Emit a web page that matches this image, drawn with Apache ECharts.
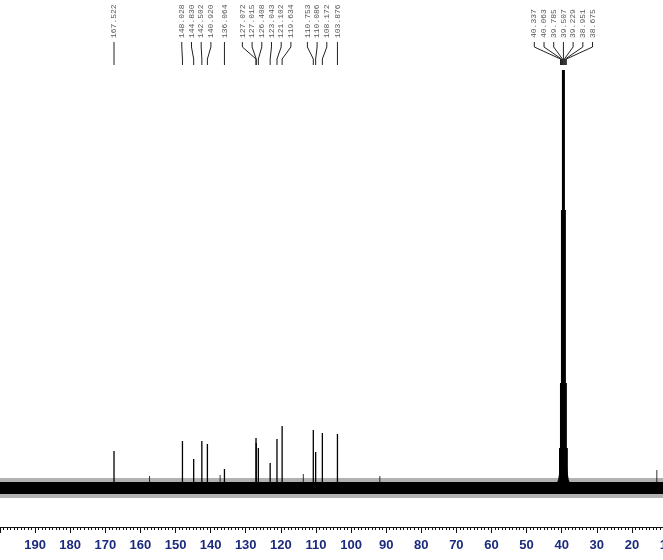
<!DOCTYPE html>
<html>
<head>
<meta charset="utf-8">
<script src="https://cdn.jsdelivr.net/npm/echarts@6/dist/echarts.min.js"></script>
<style>
html,body{margin:0;padding:0;background:#fff;}
#chart{width:663px;height:560px;}
</style>
</head>
<body>
<div id="chart"></div>
<script>
// ---- data ----
const tickValues = [190,180,170,160,150,140,130,120,110,100,90,80,70,60,50,40,30,20,10];
const peakShifts  = [167.522,148.028,144.830,142.502,140.920,136.064,127.072,127.015,126.408,123.043,121.102,119.634,110.753,110.086,108.172,103.876];
const peakHeights = [37,47,29,47,44,19,50,45,40,25,49,62,58,36,55,54];
const solventShifts  = [40.337,40.063,39.785,39.507,39.229,38.951,38.675];
const solventHeights = [40,105,278,418,278,105,40];
const humpShifts  = [41.9,41.2,40.7,40.3,40.0,39.5,39.0,38.7,38.3,37.8,37.1];
const humpHeights = [0,5,12,25,45,60,45,25,12,5,0];
const minorShifts  = [157.4,137.3,113.6,91.8,12.9];
const minorHeights = [12,13,14,12,18];

const chart = echarts.init(document.getElementById('chart'), null, {renderer:'canvas'});

function stickSeries(shifts, heights, width, color){
  return {
    type:'custom',
    clip:false,
    silent:true,
    data: shifts.map((s,i)=>[s,heights[i]]),
    renderItem:function(params, api){
      const p0 = api.coord([api.value(0), 0]);
      const p1 = api.coord([api.value(0), api.value(1)]);
      return {type:'line', shape:{x1:p0[0],y1:p0[1],x2:p1[0],y2:p1[1]},
              style:{stroke:color, lineWidth:width}};
    }
  };
}

const labelShifts = peakShifts.concat(solventShifts).slice().sort((a,b)=>b-a);

const annotation = {
  type:'custom',
  clip:false,
  silent:true,
  data:[[100,0]],
  renderItem:function(params, api){
    const spacing = 9.7;
    const px = labelShifts.map(s=>api.coord([s,0])[0]);
    let groups = px.map((p,i)=>({members:[i], center:p}));
    let merged = true;
    while(merged){
      merged = false;
      for(let g=0; g<groups.length-1; g++){
        const a = groups[g], b = groups[g+1];
        const aRight = a.center + (a.members.length-1)/2*spacing;
        const bLeft  = b.center - (b.members.length-1)/2*spacing;
        if(aRight + spacing > bLeft + 0.01){
          const m = a.members.concat(b.members);
          const c = m.reduce((acc,i)=>acc+px[i],0)/m.length;
          groups.splice(g,2,{members:m, center:c});
          merged = true;
          break;
        }
      }
    }
    const children = [];
    groups.forEach(g=>{
      const n = g.members.length;
      g.members.forEach((idx,k)=>{
        const lx = g.center + (k-(n-1)/2)*spacing;
        const p = px[idx];
        children.push({type:'text', x:lx, y:38, rotation:Math.PI/2,
          style:{text:labelShifts[idx].toFixed(3), fill:'#555',
                 font:'8px "Liberation Mono", monospace', align:'left', verticalAlign:'middle'}});
        children.push({type:'polyline',
          shape:{points:[[lx,42],[lx,47],[p,59],[p,65]]},
          style:{stroke:'#222', lineWidth:1, fill:null}});
      });
    });
    return {type:'group', children:children};
  }
};

const option = {
  animation:false,
  backgroundColor:'#fff',
  grid:{left:0, right:-4, top:0, bottom:33, containLabel:false, outerBoundsMode:'none'},
  xAxis:{
    type:'value', inverse:true, min:10, max:200, interval:10,
    axisLine:{show:true, onZero:false, lineStyle:{color:'#111', width:1}},
    axisTick:{show:true, length:6, lineStyle:{color:'#111'}},
    minorTick:{show:true, splitNumber:10, length:3, lineStyle:{color:'#111'}},
    splitLine:{show:false},
    axisLabel:{
      margin:12, color:'#1c2a7e', fontSize:13, fontWeight:'bold',
      fontFamily:'"Liberation Sans", Arial, sans-serif',
      showMinLabel:true, showMaxLabel:true, hideOverlap:false,
      formatter:function(v){ return tickValues.indexOf(v)>=0 ? String(v) : ''; }
    }
  },
  yAxis:{type:'value', min:-39, max:488, show:false},
  series:[
    {type:'line', silent:true, symbol:'none', data:[[200,0],[10,0]],
     lineStyle:{color:'rgba(0,0,0,0.3)', width:20}},
    {type:'line', silent:true, symbol:'none', data:[[200,0],[10,0]],
     lineStyle:{color:'#000', width:12}},
    {type:'line', silent:true, symbol:'none', smooth:true,
     data:humpShifts.map((s,i)=>[s,humpHeights[i]]),
     lineStyle:{color:'#000', width:1}, areaStyle:{color:'#000', opacity:1}},
    stickSeries(minorShifts, minorHeights, 1, '#333'),
    stickSeries(peakShifts, peakHeights, 1.3, '#000'),
    stickSeries(solventShifts, solventHeights, 3, '#000'),
    annotation
  ]
};
chart.setOption(option);
</script>
</body>
</html>
